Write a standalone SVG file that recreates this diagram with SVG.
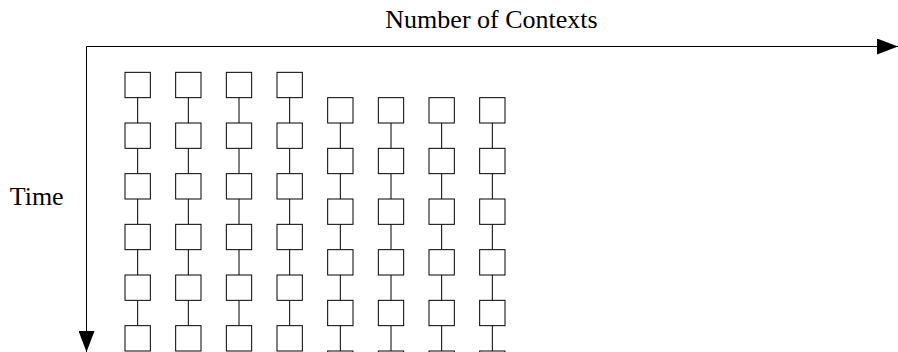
<svg xmlns="http://www.w3.org/2000/svg" width="898" height="352" viewBox="0 0 898 352">
<style>
.n{fill:#fff;stroke:#000;stroke-width:1}
.c{fill:none;stroke:#000;stroke-width:1}
.t{font-family:"Liberation Serif","Times New Roman",serif;font-size:26px;fill:#000}
</style>
<defs>
<marker id="ah" viewBox="0 0 21 16" refX="21" refY="8" markerWidth="21" markerHeight="16" markerUnits="userSpaceOnUse" orient="auto">
<path d="M0,0 L21,8 L0,16 Z" fill="#000"/>
</marker>
</defs>
<rect width="898" height="352" fill="#fff"/>
<text class="t" x="491.5" y="27.5" text-anchor="middle">Number of Contexts</text>
<text class="t" x="36.7" y="205" text-anchor="middle">Time</text>
<g id="connectors">
<path class="c" d="M86.5,46.5 H898" marker-end="url(#ah)"/>
<path class="c" d="M86.5,46.5 V352" marker-end="url(#ah)"/>
<path class="c" d="M137.67,97.67V123M137.67,148.33V173.67M137.67,199V224.33M137.67,249.67V275M137.67,300.33V325.67"/>
<path class="c" d="M188.33,97.67V123M188.33,148.33V173.67M188.33,199V224.33M188.33,249.67V275M188.33,300.33V325.67"/>
<path class="c" d="M239,97.67V123M239,148.33V173.67M239,199V224.33M239,249.67V275M239,300.33V325.67"/>
<path class="c" d="M289.67,97.67V123M289.67,148.33V173.67M289.67,199V224.33M289.67,249.67V275M289.67,300.33V325.67"/>
<path class="c" d="M340.33,123V148.33M340.33,173.67V199M340.33,224.33V249.67M340.33,275V300.33M340.33,325.67V351"/>
<path class="c" d="M391,123V148.33M391,173.67V199M391,224.33V249.67M391,275V300.33M391,325.67V351"/>
<path class="c" d="M441.67,123V148.33M441.67,173.67V199M441.67,224.33V249.67M441.67,275V300.33M441.67,325.67V351"/>
<path class="c" d="M492.33,123V148.33M492.33,173.67V199M492.33,224.33V249.67M492.33,275V300.33M492.33,325.67V351"/>
</g>
<g id="c1r1"><rect class="n" x="125" y="72.33" width="25.33" height="25.33"/></g>
<g id="c1r2"><rect class="n" x="125" y="123" width="25.33" height="25.33"/></g>
<g id="c1r3"><rect class="n" x="125" y="173.67" width="25.33" height="25.33"/></g>
<g id="c1r4"><rect class="n" x="125" y="224.33" width="25.33" height="25.33"/></g>
<g id="c1r5"><rect class="n" x="125" y="275" width="25.33" height="25.33"/></g>
<g id="c1r6"><rect class="n" x="125" y="325.67" width="25.33" height="25.33"/></g>
<g id="c2r1"><rect class="n" x="175.67" y="72.33" width="25.33" height="25.33"/></g>
<g id="c2r2"><rect class="n" x="175.67" y="123" width="25.33" height="25.33"/></g>
<g id="c2r3"><rect class="n" x="175.67" y="173.67" width="25.33" height="25.33"/></g>
<g id="c2r4"><rect class="n" x="175.67" y="224.33" width="25.33" height="25.33"/></g>
<g id="c2r5"><rect class="n" x="175.67" y="275" width="25.33" height="25.33"/></g>
<g id="c2r6"><rect class="n" x="175.67" y="325.67" width="25.33" height="25.33"/></g>
<g id="c3r1"><rect class="n" x="226.33" y="72.33" width="25.33" height="25.33"/></g>
<g id="c3r2"><rect class="n" x="226.33" y="123" width="25.33" height="25.33"/></g>
<g id="c3r3"><rect class="n" x="226.33" y="173.67" width="25.33" height="25.33"/></g>
<g id="c3r4"><rect class="n" x="226.33" y="224.33" width="25.33" height="25.33"/></g>
<g id="c3r5"><rect class="n" x="226.33" y="275" width="25.33" height="25.33"/></g>
<g id="c3r6"><rect class="n" x="226.33" y="325.67" width="25.33" height="25.33"/></g>
<g id="c4r1"><rect class="n" x="277" y="72.33" width="25.33" height="25.33"/></g>
<g id="c4r2"><rect class="n" x="277" y="123" width="25.33" height="25.33"/></g>
<g id="c4r3"><rect class="n" x="277" y="173.67" width="25.33" height="25.33"/></g>
<g id="c4r4"><rect class="n" x="277" y="224.33" width="25.33" height="25.33"/></g>
<g id="c4r5"><rect class="n" x="277" y="275" width="25.33" height="25.33"/></g>
<g id="c4r6"><rect class="n" x="277" y="325.67" width="25.33" height="25.33"/></g>
<g id="c5r1"><rect class="n" x="327.67" y="97.67" width="25.33" height="25.33"/></g>
<g id="c5r2"><rect class="n" x="327.67" y="148.33" width="25.33" height="25.33"/></g>
<g id="c5r3"><rect class="n" x="327.67" y="199" width="25.33" height="25.33"/></g>
<g id="c5r4"><rect class="n" x="327.67" y="249.67" width="25.33" height="25.33"/></g>
<g id="c5r5"><rect class="n" x="327.67" y="300.33" width="25.33" height="25.33"/></g>
<g id="c5r6"><rect class="n" x="327.67" y="351" width="25.33" height="25.33"/></g>
<g id="c6r1"><rect class="n" x="378.33" y="97.67" width="25.33" height="25.33"/></g>
<g id="c6r2"><rect class="n" x="378.33" y="148.33" width="25.33" height="25.33"/></g>
<g id="c6r3"><rect class="n" x="378.33" y="199" width="25.33" height="25.33"/></g>
<g id="c6r4"><rect class="n" x="378.33" y="249.67" width="25.33" height="25.33"/></g>
<g id="c6r5"><rect class="n" x="378.33" y="300.33" width="25.33" height="25.33"/></g>
<g id="c6r6"><rect class="n" x="378.33" y="351" width="25.33" height="25.33"/></g>
<g id="c7r1"><rect class="n" x="429" y="97.67" width="25.33" height="25.33"/></g>
<g id="c7r2"><rect class="n" x="429" y="148.33" width="25.33" height="25.33"/></g>
<g id="c7r3"><rect class="n" x="429" y="199" width="25.33" height="25.33"/></g>
<g id="c7r4"><rect class="n" x="429" y="249.67" width="25.33" height="25.33"/></g>
<g id="c7r5"><rect class="n" x="429" y="300.33" width="25.33" height="25.33"/></g>
<g id="c7r6"><rect class="n" x="429" y="351" width="25.33" height="25.33"/></g>
<g id="c8r1"><rect class="n" x="479.67" y="97.67" width="25.33" height="25.33"/></g>
<g id="c8r2"><rect class="n" x="479.67" y="148.33" width="25.33" height="25.33"/></g>
<g id="c8r3"><rect class="n" x="479.67" y="199" width="25.33" height="25.33"/></g>
<g id="c8r4"><rect class="n" x="479.67" y="249.67" width="25.33" height="25.33"/></g>
<g id="c8r5"><rect class="n" x="479.67" y="300.33" width="25.33" height="25.33"/></g>
<g id="c8r6"><rect class="n" x="479.67" y="351" width="25.33" height="25.33"/></g>
</svg>
